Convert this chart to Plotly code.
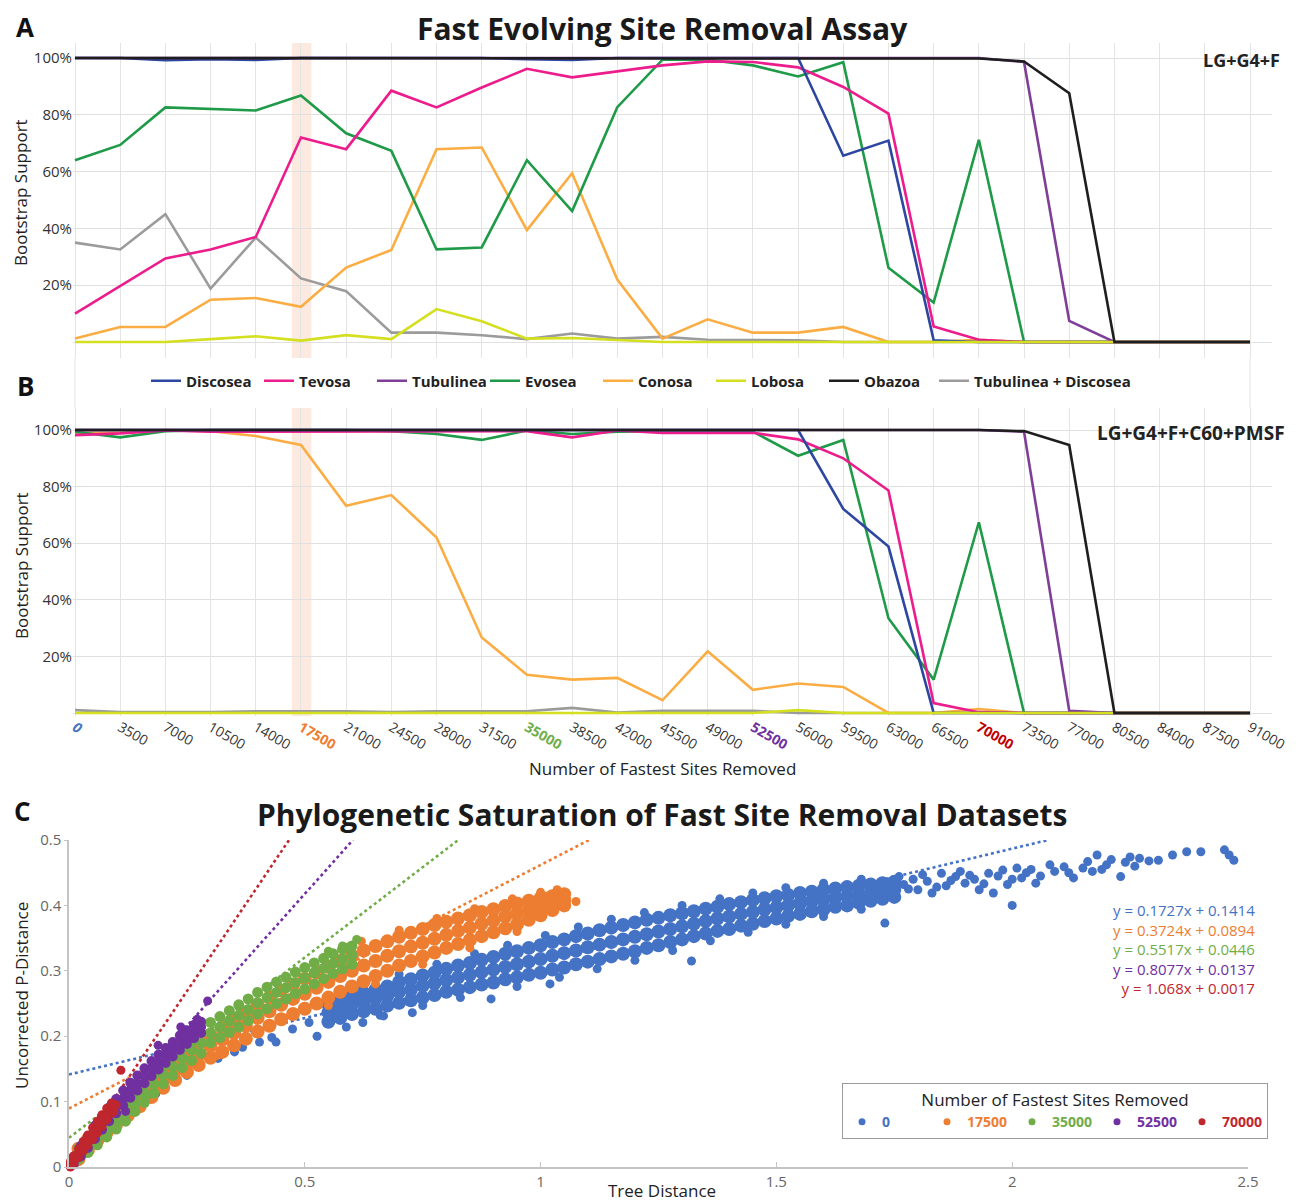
import plotly.graph_objects as go

W, H = 1304, 1202          # browser window
PAGE_OFFSET = 8            # default body margin of the html page
FW, FH = W - PAGE_OFFSET, H - PAGE_OFFSET
FONT = "Open Sans"

# ---------------- Panel A / B data ----------------
sites_removed = [0, 3500, 7000, 10500, 14000, 17500, 21000, 24500, 28000, 31500, 35000,
                 38500, 42000, 45500, 49000, 52500, 56000, 59500, 63000, 66500, 70000,
                 73500, 77000, 80500, 84000, 87500, 91000]

clades = ["Discosea", "Tevosa", "Tubulinea", "Evosea", "Conosa", "Lobosa", "Obazoa",
          "Tubulinea + Discosea"]
clade_colors = ["#2d46a0", "#ec1c8c", "#7f3f98", "#1f9a48", "#fbad44", "#d4df1f",
                "#1e1e1e", "#9b9b9b"]

# LG+G4+F
discosea_A = [100, 100, 99.2, 99.6, 99.3, 100, 100, 100, 100, 100, 99.6, 99.3, 100, 100, 100, 100,
              100, 65.6, 70.9, 0.6, 0, 0, 0, 0, 0, 0, 0]
tevosa_A = [10, 19.6, 29.4, 32.6, 37, 72, 67.9, 88.5, 82.6, 89.6, 96.2, 93.2, 95.3, 97.4, 98.8,
            98.6, 96.7, 89.8, 80.4, 5.5, 0.8, 0, 0, 0, 0, 0, 0]
tubulinea_A = [100, 100, 100, 100, 100, 100, 100, 100, 100, 100, 100, 100, 100, 100, 100, 100,
               100, 100, 100, 100, 100, 98.6, 7.4, 0, 0, 0, 0]
evosea_A = [64, 69.4, 82.6, 82.1, 81.5, 86.8, 73.5, 67.3, 32.6, 33.3, 64, 46.1, 82.7, 99.4, 99.4,
            97.4, 93.5, 98.5, 26.1, 13.9, 71.2, 0, 0, 0, 0, 0, 0]
conosa_A = [1.2, 5.3, 5.3, 14.9, 15.5, 12.4, 26.2, 32.4, 67.9, 68.5, 39.4, 59.4, 22, 1.2, 8, 3.3,
            3.3, 5.3, 0, 0, 0.8, 0, 0, 0, 0, 0, 0]
lobosa_A = [0, 0, 0, 1.0, 2.0, 0.5, 2.4, 1.0, 11.6, 7.3, 1.2, 1.4, 0.8, 0, 0, 0, 0, 0, 0, 0, 0,
            0, 0, 0, 0, 0, 0]
obazoa_A = [100, 100, 100, 100, 100, 100, 100, 100, 100, 100, 100, 100, 100, 100, 100, 100, 100,
            100, 100, 100, 99.8, 98.8, 87.6, 0, 0, 0, 0]
tubdisc_A = [35, 32.6, 45, 18.8, 36.8, 22.4, 17.9, 3.3, 3.3, 2.4, 1, 3, 1.2, 1.8, 0.8, 0.8, 0.6,
             0, 0, 0, 0, 0, 0, 0, 0, 0, 0]

# LG+G4+F+C60+PMSF
discosea_B = [100, 100, 100, 100, 100, 100, 100, 100, 100, 100, 100, 100, 100, 100, 100, 100, 100,
              72.1, 58.8, 0, 0, 0, 0, 0, 0, 0, 0]
tevosa_B = [98.2, 98.8, 99.8, 99.4, 99.4, 99.4, 99.4, 99.4, 99.4, 99.4, 99.6, 97.4, 99.8, 99, 99,
            99, 96.7, 90, 78.6, 3.5, 0.3, 0, 0, 0, 0, 0, 0]
tubulinea_B = [100, 100, 100, 100, 100, 100, 100, 100, 100, 100, 100, 100, 100, 100, 100, 100,
               100, 100, 100, 100, 100, 99.4, 0.8, 0, 0, 0, 0]
evosea_B = [99.4, 97.4, 99.6, 100, 100, 100, 100, 99.6, 98.6, 96.5, 99.8, 98.6, 99.4, 99.6, 99.6,
            99.4, 90.9, 96.5, 33.5, 11.8, 67.4, 0, 0, 0, 0, 0, 0]
conosa_B = [99, 99, 100, 99.6, 97.9, 94.7, 73.2, 77, 62, 26.7, 13.5, 11.8, 12.4, 4.5, 21.8, 8.2,
            10.4, 9.2, 0, 0, 1.4, 0, 0, 0, 0, 0, 0]
lobosa_B = [0, 0, 0, 0, 0, 0, 0, 0, 0, 0, 0, 0, 0, 0, 0, 0, 1, 0, 0, 0, 0, 0, 0, 0, 0, 0, 0]
obazoa_B = [100, 100, 100, 100, 100, 100, 100, 100, 100, 100, 100, 100, 100, 100, 100, 100, 100,
            100, 100, 100, 100, 99.6, 94.7, 0, 0, 0, 0]
tubdisc_B = [1, 0.3, 0.3, 0.3, 0.6, 0.6, 0.6, 0.3, 0.6, 0.6, 0.6, 1.8, 0.2, 0.8, 0.8, 0.8, 0, 0,
             0, 0, 0, 0, 0, 0, 0, 0, 0]

series_A = [discosea_A, tevosa_A, tubulinea_A, evosea_A, conosa_A, lobosa_A, obazoa_A, tubdisc_A]
series_B = [discosea_B, tevosa_B, tubulinea_B, evosea_B, conosa_B, lobosa_B, obazoa_B, tubdisc_B]
draw_order = [7, 4, 3, 1, 0, 2, 5, 6]  # gray first ... black on top

highlighted_ticks = {0: "#4472c4", 17500: "#ed7d31", 35000: "#70ad47", 52500: "#7030a0",
                     70000: "#c00000"}
highlight_site = 17500

# ---------------- Panel C data ----------------
set_names = ["0", "17500", "35000", "52500", "70000"]
set_colors = ["#4472c4", "#ed7d31", "#70ad47", "#7030a0", "#c0262d"]
cloud_marker_size = [14, 14, 11, 10, 9]
extra_marker_size = [9, 9, 9, 9, 9]
trend_slope = [0.1727, 0.3724, 0.5517, 0.8077, 1.068]
trend_intercept = [0.1414, 0.0894, 0.0446, 0.0137, 0.0017]
trend_labels = ["y = 0.1727x + 0.1414", "y = 0.3724x + 0.0894", "y = 0.5517x + 0.0446",
                "y = 0.8077x + 0.0137", "y = 1.068x + 0.0017"]

# cloud columns (tree distance, lower, middle, upper p-distance)
blue_cols = [(0.55, .222, .236, .248), (0.575, .228, .241, .254), (0.6, .234, .249, .261),
             (0.625, .238, .252, .266), (0.65, .242, .258, .271), (0.675, .247, .262, .276),
             (0.7, .251, .268, .283), (0.725, .255, .271, .287), (0.75, .259, .277, .293),
             (0.775, .263, .281, .297), (0.8, .268, .286, .303), (0.825, .271, .290, .308),
             (0.85, .275, .294, .312), (0.875, .279, .298, .317), (0.9, .282, .302, .321),
             (0.925, .287, .306, .326), (0.95, .290, .310, .330), (0.975, .294, .314, .335),
             (1.0, .297, .318, .339), (1.025, .302, .323, .344), (1.05, .305, .327, .348),
             (1.075, .310, .331, .353), (1.1, .314, .336, .357), (1.125, .318, .340, .362),
             (1.15, .322, .344, .366), (1.175, .326, .348, .370), (1.2, .330, .352, .374),
             (1.225, .335, .356, .378), (1.25, .339, .360, .381), (1.275, .344, .364, .385),
             (1.3, .348, .368, .388), (1.325, .353, .372, .391), (1.35, .357, .376, .395),
             (1.375, .361, .380, .398), (1.4, .364, .383, .402), (1.425, .369, .387, .405),
             (1.45, .372, .390, .408), (1.475, .376, .394, .411), (1.5, .380, .397, .414),
             (1.525, .384, .400, .416), (1.55, .387, .403, .419), (1.575, .391, .406, .421),
             (1.6, .394, .409, .424), (1.625, .398, .412, .426), (1.65, .400, .414, .428),
             (1.675, .404, .417, .430), (1.7, .407, .419, .432), (1.725, .410, .422, .434),
             (1.75, .413, .424, .436)]
blue_extra = [(0.114, .077), (0.184, .112), (0.25, .14), (0.272, .155), (0.316, .166),
              (0.351, .176), (0.368, .183), (0.404, .191), (0.43, .198), (0.439, .191),
              (0.474, .211), (0.509, .221), (0.526, .2), (0.553, .231), (0.588, .214),
              (0.623, .221), (0.667, .231), (0.728, .236), (0.895, .257),
              (0.62, .277), (0.70, .295), (0.78, .31), (0.86, .326), (0.93, .339), (1.01, .354),
              (1.08, .367), (1.15, .379), (1.22, .389), (1.30, .40), (1.38, .41), (1.45, .419),
              (1.52, .427), (1.60, .434), (1.68, .44),
              (0.66, .232), (0.75, .247), (0.83, .259), (0.95, .276), (1.04, .29), (1.12, .303),
              (1.20, .316), (1.28, .331), (1.36, .346), (1.44, .359), (1.52, .371), (1.60, .383),
              (1.68, .394), (1.02, .28), (1.32, .315), (1.73, .373), (2.0, .40),
              (1.76, .444), (1.80, .424), (1.83, .419), (1.85, .449), (1.88, .444), (1.90, .434),
              (1.93, .424), (1.95, .449), (1.96, .419), (1.98, .454), (2.01, .457), (2.05, .434),
              (2.08, .462), (2.11, .459), (2.13, .442), (2.16, .467), (2.18, .477), (2.20, .462),
              (2.23, .444), (2.25, .474), (2.27, .472), (2.31, .469), (2.34, .477), (2.37, .482),
              (2.40, .482), (2.45, .485), (2.46, .477), (2.47, .469), (1.77, .432), (1.79, .44),
              (1.82, .437), (1.86, .43), (1.89, .452), (1.92, .44), (1.94, .433), (1.97, .445),
              (2.0, .44), (2.03, .45), (2.06, .445), (2.09, .452), (2.12, .45), (2.15, .457),
              (2.17, .452), (2.19, .455), (2.21, .47), (2.24, .466), (2.26, .46), (2.29, .468),
              (1.78, .425), (1.81, .447), (1.84, .428), (1.87, .438), (1.91, .446), (1.99, .432),
              (2.02, .442), (2.04, .455)]

orange_cols = [(0.02, .012, .02, .028), (0.04, .026, .034, .042), (0.06, .040, .048, .057),
               (0.08, .053, .062, .071), (0.1, .065, .075, .085), (0.125, .079, .09, .101),
               (0.15, .093, .105, .117), (0.175, .107, .12, .133), (0.2, .121, .135, .149),
               (0.225, .133, .148, .163), (0.25, .145, .16, .176), (0.275, .156, .172, .189),
               (0.3, .167, .185, .202), (0.325, .176, .195, .213), (0.35, .186, .205, .224),
               (0.375, .196, .216, .236), (0.4, .207, .228, .248), (0.425, .216, .238, .259),
               (0.45, .226, .248, .27), (0.475, .234, .257, .279), (0.5, .242, .265, .288),
               (0.525, .25, .274, .297), (0.55, .259, .283, .306), (0.575, .268, .292, .315),
               (0.6, .276, .300, .323), (0.625, .284, .308, .331), (0.65, .292, .315, .338),
               (0.675, .300, .323, .345), (0.7, .308, .330, .352), (0.725, .315, .337, .358),
               (0.75, .322, .343, .364), (0.775, .328, .349, .370), (0.8, .335, .355, .375),
               (0.825, .341, .361, .38), (0.85, .347, .366, .385), (0.875, .353, .372, .39),
               (0.9, .359, .377, .394), (0.925, .365, .383, .399), (0.95, .371, .388, .403),
               (0.975, .378, .393, .407), (1.0, .385, .398, .411), (1.025, .393, .403, .414),
               (1.05, .4, .408, .417)]
orange_extra = [(1.035, .424), (1.075, .406), (1.01, .414), (1.053, .409), (0.95, .378),
                (0.62, .345), (0.7, .362), (0.78, .38), (0.86, .395), (0.94, .41), (1.0, .42),
                (0.55, .247), (0.65, .28), (0.75, .31), (0.85, .335), (0.95, .36),
                (0.24, .15), (0.316, .171)]

green_cols = [(0.02, .012, .02, .028), (0.04, .022, .03, .038), (0.06, .034, .043, .052),
              (0.08, .046, .056, .066), (0.1, .058, .068, .078), (0.12, .07, .082, .094),
              (0.14, .085, .097, .109), (0.16, .099, .112, .125), (0.18, .113, .127, .141),
              (0.2, .127, .141, .155), (0.22, .14, .154, .168), (0.24, .152, .167, .181),
              (0.26, .163, .179, .193), (0.28, .174, .19, .205), (0.3, .19, .205, .221),
              (0.32, .198, .214, .23), (0.34, .206, .223, .239), (0.36, .214, .232, .248),
              (0.38, .224, .241, .257), (0.4, .234, .251, .267), (0.42, .242, .259, .275),
              (0.44, .25, .267, .283), (0.46, .257, .274, .29), (0.48, .265, .282, .298),
              (0.5, .272, .289, .305), (0.52, .28, .297, .312), (0.54, .288, .304, .319),
              (0.56, .296, .311, .326), (0.58, .303, .318, .333), (0.6, .31, .324, .338)]
green_extra = [(0.61, .348), (0.59, .336), (0.167, .11), (0.58, .338), (0.55, .33)]

purple_cols = [(0.01, .004, .010, .016), (0.025, .016, .024, .032), (0.04, .029, .038, .047),
               (0.055, .043, .053, .063), (0.07, .057, .067, .077), (0.085, .07, .08, .091),
               (0.1, .082, .093, .104), (0.115, .094, .105, .117), (0.13, .106, .117, .129),
               (0.145, .117, .128, .14), (0.16, .128, .139, .151), (0.175, .139, .150, .162),
               (0.19, .149, .160, .172), (0.205, .159, .170, .182), (0.22, .169, .180, .191),
               (0.235, .179, .190, .201), (0.25, .188, .199, .209), (0.265, .197, .207, .217),
               (0.28, .205, .214, .222)]
purple_extra = [(0.294, .254), (0.189, .186), (0.237, .214), (0.272, .226), (0.12, .085)]

red_cols = [(0.003, .0, .004, .008), (0.01, .006, .011, .017), (0.02, .014, .021, .028),
            (0.03, .024, .031, .039), (0.04, .033, .041, .049), (0.05, .042, .051, .06),
            (0.06, .052, .061, .07), (0.07, .062, .071, .08), (0.08, .072, .081, .09),
            (0.09, .082, .09, .098)]
red_extra = [(0.11, .148), (0.1, .095), (0.095, .085)]

clouds_cols = [blue_cols, orange_cols, green_cols, purple_cols, red_cols]
clouds_extra = [blue_extra, orange_extra, green_extra, purple_extra, red_extra]


# ---------------- helpers (reference pixel -> paper fraction) ----------------
def fx(p):
    return (p - PAGE_OFFSET) / FW


def fy(p):
    return 1 - (p - PAGE_OFFSET) / FH


def ann(text, x, y, size, color="#222", xanchor="center", yanchor="middle", angle=0,
        align="center"):
    return dict(text=text, xref="paper", yref="paper", x=fx(x), y=fy(y), showarrow=False,
                font=dict(family=FONT, size=size, color=color), xanchor=xanchor,
                yanchor=yanchor, textangle=angle, align=align)


fig = go.Figure()

# ---- panel A & B lines ----
for panel, series, xa, ya in (("A", series_A, "x", "y"), ("B", series_B, "x2", "y2")):
    for k in draw_order:
        fig.add_trace(go.Scatter(
            x=sites_removed, y=series[k], mode="lines", name=clades[k],
            line=dict(color=clade_colors[k], width=2.6),
            xaxis=xa, yaxis=ya, legendgroup=clades[k], legendrank=k + 1,
            showlegend=(panel == "A"), legend=("legend3" if k == 7 else "legend"),
            hoverinfo="skip"))

# ---- panel C trend lines ----
for i in range(5):
    a, b = trend_slope[i], trend_intercept[i]
    x_end = min(2.5, (0.5 - b) / a)
    fig.add_trace(go.Scatter(
        x=[0, x_end], y=[b, a * x_end + b], mode="lines",
        line=dict(color=set_colors[i], width=2.6, dash="dot"),
        xaxis="x3", yaxis="y3", showlegend=False, hoverinfo="skip"))

# ---- panel C clouds ----
for i in range(5):
    xs, ys, sz = [], [], []
    for (cx, lo, mid, hi) in clouds_cols[i]:
        xs += [cx, cx, cx]
        ys += [lo, mid, hi]
        sz += [cloud_marker_size[i]] * 3
    for (ex, ey) in clouds_extra[i]:
        xs.append(ex)
        ys.append(ey)
        sz.append(extra_marker_size[i])
    fig.add_trace(go.Scatter(
        x=xs, y=ys, mode="markers", name=set_names[i], legendgroup="c" + set_names[i],
        marker=dict(color=set_colors[i], size=sz, opacity=1, line=dict(width=0)),
        xaxis="x3", yaxis="y3", showlegend=False, cliponaxis=False, hoverinfo="skip"))
    # legend entry (small dot as in the reference key)
    fig.add_trace(go.Scatter(
        x=[None], y=[None], mode="markers", legendgroup="c" + set_names[i],
        name=f"<span style='color:{set_colors[i]}'><b>{set_names[i]}</b></span>",
        marker=dict(color=set_colors[i], size=7, opacity=1), xaxis="x3", yaxis="y3",
        legend="legend2", showlegend=True, hoverinfo="skip"))

# ---- axes ----
k_x = 1175 / 91000.0
x_range = [0 - (75 - 73) / k_x, 91000 + (1272 - 1250) / k_x]
ticktext = []
for s in sites_removed:
    if s in highlighted_ticks:
        inner = f"<i>{s}</i>" if s == 0 else f"{s}"
        ticktext.append(f"<span style='color:{highlighted_ticks[s]}'><b>{inner}</b></span>")
    else:
        ticktext.append(str(s))

common_x = dict(range=x_range, domain=[fx(73), fx(1272)], showgrid=True, gridcolor="#e4e4e4",
                gridwidth=1, zeroline=False, showline=False, tickvals=sites_removed,
                automargin=False, ticks="")
ytv = [0, 20, 40, 60, 80, 100]
ytt = ["", "20%", "40%", "60%", "80%", "100%"]
common_y = dict(showgrid=True, gridcolor="#e0e0e0", gridwidth=1, zeroline=False, showline=False,
                tickvals=ytv, ticktext=ytt, automargin=False, ticks="",
                tickfont=dict(family=FONT, size=15, color="#333"))

fig.update_layout(
    xaxis=dict(**common_x, anchor="y", showticklabels=False),
    yaxis=dict(**common_y, anchor="x", domain=[fy(358), fy(43)],
               range=[-16 / 2.84, 100 + 15 / 2.84]),
    xaxis2=dict(**common_x, anchor="y2", showticklabels=True, ticktext=ticktext, tickangle=30,
                tickfont=dict(family=FONT, size=14, color="#333")),
    yaxis2=dict(**common_y, anchor="x2", domain=[fy(716), fy(408)],
                range=[-3 / 2.83, 100 + 22 / 2.83]),
    xaxis3=dict(domain=[fx(69), fx(1248)], range=[0, 2.5], anchor="y3", showgrid=False,
                zeroline=False, showline=True, linecolor="#c4c4c4", linewidth=1.5,
                ticks="inside", ticklen=5, tickcolor="#c4c4c4",
                tickvals=[0, 0.5, 1, 1.5, 2, 2.5], ticktext=["0", "0.5", "1", "1.5", "2", "2.5"],
                tickfont=dict(family=FONT, size=15, color="#666"), automargin=False),
    yaxis3=dict(domain=[fy(1167), fy(840)], range=[0, 0.5], anchor="x3", showgrid=False,
                zeroline=False, showline=True, linecolor="#c4c4c4", linewidth=1.5,
                ticks="outside", ticklen=3, tickcolor="#c4c4c4",
                tickvals=[0, 0.1, 0.2, 0.3, 0.4, 0.5],
                ticktext=["0", "0.1", "0.2", "0.3", "0.4", "0.5"],
                tickfont=dict(family=FONT, size=15, color="#666"), automargin=False),
)

# ---- shapes ----
shapes = []
for xa, ya in (("x", "y"), ("x2", "y2")):
    shapes.append(dict(type="rect", xref=xa, yref=f"{ya} domain", x0=highlight_site - 700,
                       x1=highlight_site + 800, y0=0, y1=1, fillcolor="rgba(247,190,160,0.32)",
                       line=dict(width=0), layer="below"))
for s in (sites_removed[0], sites_removed[-1]):
    shapes.append(dict(type="line", xref="x", yref="paper", x0=s, x1=s, y0=fy(408), y1=fy(358),
                       line=dict(color="#e4e4e4", width=1), layer="below"))

# ---- annotations ----
equations = "<br>".join(f"<span style='color:{c}'>{t}</span>"
                        for c, t in zip(set_colors, trend_labels))
annotations = [
    ann("<b>A</b>", 25, 27, 26, "#111"),
    ann("<b>Fast Evolving Site Removal Assay</b>", 662, 28, 30, "#1a1a1a"),
    ann("<b>LG+G4+F</b>", 1282, 60, 18, "#222", xanchor="right"),
    ann("<b>B</b>", 25, 386, 26, "#111"),
    ann("<b>LG+G4+F+C60+PMSF</b>", 1287, 433, 19, "#222", xanchor="right"),
    ann("Bootstrap Support", 21, 193, 17, "#222", angle=-90),
    ann("Bootstrap Support", 21, 566, 17, "#222", angle=-90),
    ann("Number of Fastest Sites Removed", 662, 768, 17, "#222"),
    ann("<b>C</b>", 22, 811, 26, "#111"),
    ann("<b>Phylogenetic Saturation of Fast Site Removal Datasets</b>", 662, 814, 30, "#1a1a1a"),
    ann("Tree Distance", 662, 1190, 17, "#222"),
    ann("Uncorrected P-Distance", 21, 996, 17, "#222", angle=-90),
    ann(equations, 1257, 949, 15, "#222", xanchor="right", align="right"),
]

legend_common = dict(orientation="h", yanchor="middle", bgcolor="rgba(0,0,0,0)", itemwidth=30,
                     font=dict(family=FONT, size=15, color="#222", weight="bold"))
fig.update_layout(
    width=FW, height=FH, margin=dict(l=0, r=0, t=0, b=0, autoexpand=False),
    template="none", paper_bgcolor="white", plot_bgcolor="white",
    font=dict(family=FONT, color="#222"),
    shapes=shapes, annotations=annotations,
    legend=dict(**legend_common, x=fx(146), y=fy(381), xanchor="left", traceorder="normal",
                entrywidth=68, entrywidthmode="pixels"),
    legend3=dict(**legend_common, x=fx(934), y=fy(381), xanchor="left"),
    legend2=dict(orientation="h", x=fx(1055), y=fy(1111), xanchor="center", yanchor="middle",
                 title=dict(text="Number of Fastest Sites Removed", side="top center",
                            font=dict(family=FONT, size=17, color="#222")),
                 font=dict(family=FONT, size=14), bgcolor="white", bordercolor="#9a9a9a",
                 borderwidth=1, entrywidth=40, entrywidthmode="pixels", itemwidth=30),
)

fig.write_html("out.html")
